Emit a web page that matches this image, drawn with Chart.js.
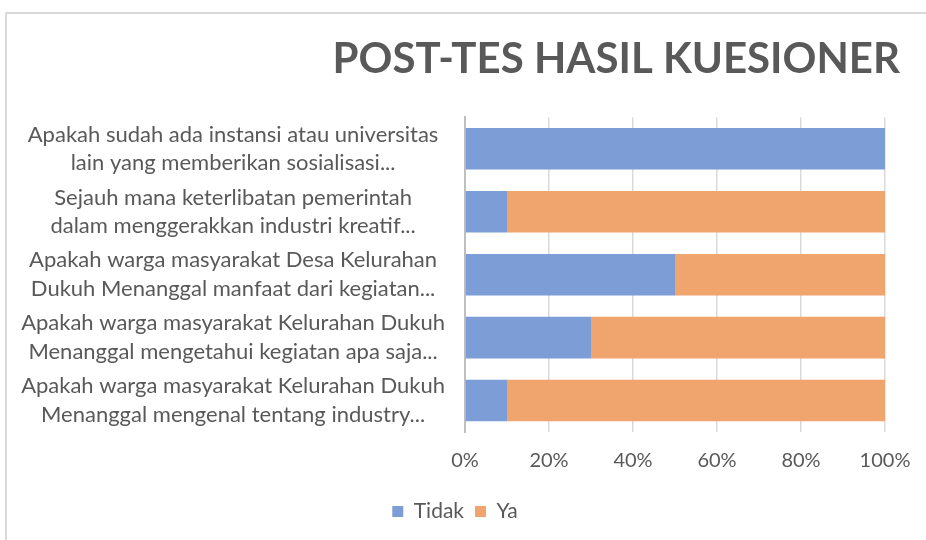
<!DOCTYPE html>
<html>
<head>
<meta charset="utf-8">
<script src="https://cdn.jsdelivr.net/npm/chart.js@4.4.0/dist/chart.umd.min.js"></script>
<style>
  html, body { margin: 0; padding: 0; background: #fff; }
  #wrap { position: relative; width: 926px; height: 540px; overflow: hidden; }
  #frame {
    position: absolute; left: 5px; top: 12px; width: 960px; height: 600px;
    border-left: 2px solid #d9d9d9; border-top: 2px solid #d9d9d9;
    pointer-events: none;
  }
</style>
</head>
<body>
<div id="wrap">
  <canvas id="kuesioner" width="926" height="540"></canvas>
  <div id="frame"></div>
</div>
<script>
// ── Data ─────────────────────────────────────
const questions = [
  ['Apakah sudah ada instansi atau universitas', 'lain yang memberikan sosialisasi...'],
  ['Sejauh mana keterlibatan pemerintah', 'dalam menggerakkan industri kreatif...'],
  ['Apakah warga masyarakat Desa Kelurahan', 'Dukuh Menanggal manfaat dari kegiatan...'],
  ['Apakah warga masyarakat Kelurahan Dukuh', 'Menanggal mengetahui kegiatan apa saja...'],
  ['Apakah warga masyarakat Kelurahan Dukuh', 'Menanggal mengenal tentang industry...'],
];
const tidak = [100, 10, 50, 30, 10];
const ya    = [0, 90, 50, 70, 90];
const pctTicks = [0, 20, 40, 60, 80, 100];

const FONT = "Lato, 'Liberation Sans', sans-serif";
const GREY = '#595959';

// ── Chart ─────────────────────────────────────
new Chart(document.getElementById('kuesioner'), {
  type: 'bar',
  data: {
    labels: questions,
    datasets: [
      { label: 'Tidak', data: tidak, backgroundColor: '#7c9dd5' },
      { label: 'Ya',    data: ya,    backgroundColor: '#f0a46e' },
    ],
  },
  options: {
    indexAxis: 'y',
    responsive: false,
    animation: false,
    layout: { padding: { top: 34, right: 26, bottom: 8, left: 10 } },
    datasets: { bar: { categoryPercentage: 1, barPercentage: 0.66 } },
    plugins: {
      title: {
        display: true,
        text: 'POST-TES HASIL KUESIONER',
        align: 'end',
        color: GREY,
        font: { family: FONT, size: 42, weight: 'bold' },
        padding: { top: 0, bottom: 33 },
      },
      legend: {
        position: 'bottom',
        labels: {
          color: GREY,
          font: { family: FONT, size: 21 },
          boxWidth: 11,
          boxHeight: 11,
          padding: 11,
        },
      },
      tooltip: { enabled: false },
    },
    scales: {
      x: {
        stacked: true,
        min: 0,
        max: 100,
        afterBuildTicks: s => { s.ticks = pctTicks.map(v => ({ value: v })); },
        afterFit: s => { s.paddingRight = 41; },
        grid: { color: '#d9d9d9', lineWidth: 1.5, drawTicks: false },
        border: { display: false },
        ticks: {
          color: GREY,
          font: { family: FONT, size: 20 },
          padding: 17,
          callback: v => v + '%',
        },
      },
      y: {
        stacked: true,
        afterFit: s => { s.width = 455; },
        grid: { display: false, drawTicks: false },
        border: { color: '#bfbfbf', width: 2 },
        ticks: {
          color: GREY,
          font: { family: FONT, size: 22, lineHeight: 1.3 },
          crossAlign: 'center',
          padding: 20,
        },
      },
    },
  },
});
</script>
</body>
</html>
